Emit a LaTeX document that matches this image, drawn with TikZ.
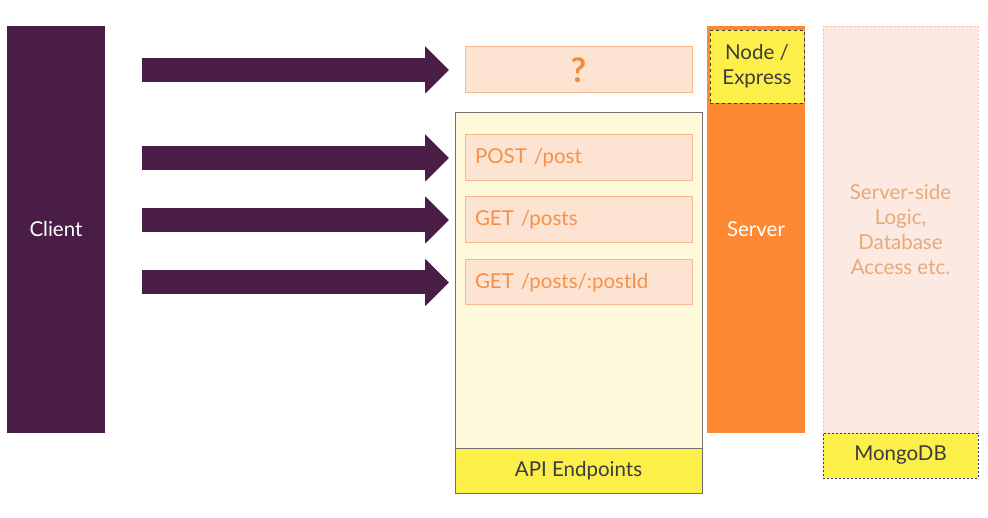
\documentclass[tikz,border=0pt]{standalone}
\usepackage{fontspec}
\setmainfont{Lato}
\definecolor{clientpurple}{RGB}{74, 29, 71}
\definecolor{peachfill}{RGB}{253, 228, 210}
\definecolor{peachline}{RGB}{247, 185, 140}
\definecolor{routetext}{RGB}{245, 145, 72}
\definecolor{qorange}{RGB}{245, 138, 58}
\definecolor{apifill}{RGB}{255, 249, 219}
\definecolor{apiline}{RGB}{112, 112, 112}
\definecolor{tagyellow}{RGB}{253, 239, 74}
\definecolor{serverorange}{RGB}{253, 138, 51}
\definecolor{logicfill}{RGB}{252, 233, 225}
\definecolor{logicline}{RGB}{240, 196, 176}
\definecolor{logictext}{RGB}{230, 170, 122}
\definecolor{darktext}{RGB}{60, 60, 60}
\usetikzlibrary{arrows.meta, positioning, calc}

\begin{document}
\begin{tikzpicture}[x=1pt, y=-1pt,
  box/.style={anchor=north west, inner sep=0pt, outer sep=0pt, align=center, font=\fontsize{20.5}{25}\selectfont},
  route/.style={box, draw=peachline, fill=peachfill, line width=1pt, text width=207pt, inner xsep=10pt, align=left, text=routetext},
  tag/.style={box, fill=tagyellow, text=darktext},
  fatarrow/.style={clientpurple, line width=24pt, -{Triangle[length=24pt, width=46pt]}, shorten <=37pt, shorten >=16pt}
]
  \useasboundingbox (0,0) rectangle (988,518);

  % Client
  \node[box, fill=clientpurple, text=white, minimum width=98pt, minimum height=407pt] (client) at (7,26) {Client};

  % Unknown route
  \node[box, draw=peachline, fill=peachfill, line width=1pt, minimum width=227pt, minimum height=46pt, text=qorange, font=\fontsize{34}{34}\bfseries] (unknown) at (465,47) {?};

  % API endpoints
  \node[box, draw=apiline, fill=apifill, line width=1pt, minimum width=247pt, minimum height=380pt] (api) at (455,113) {};
  \node[tag, draw=apiline, line width=1pt, minimum width=247pt, minimum height=45pt] (apilabel) at (455,448) {API Endpoints};
  \node[route, minimum height=46pt] (post) at (465,135) {POST /post};
  \node[route, minimum height=46pt] (getall) at (465,197) {GET /posts};
  \node[route, minimum height=45pt] (getone) at (465,260) {GET /posts/:postId};

  % Server
  \node[box, fill=serverorange, text=white, minimum width=98pt, minimum height=407pt] (server) at (707,26) {Server};
  \node[tag, draw=darktext, dashed, line width=0.8pt, minimum width=94pt, minimum height=73pt] (express) at (710,30) {Node /\\Express};

  % Server-side logic
  \node[box, draw=logicline, dash pattern=on 2pt off 2pt, fill=logicfill, line width=0.8pt, text=logictext, minimum width=155pt, minimum height=407pt] (logic) at (823,26) {Server-side\\Logic,\\Database\\Access etc.};
  \node[tag, draw=darktext, dash pattern=on 2pt off 2pt, line width=0.8pt, minimum width=155pt, minimum height=45pt] (mongo) at (823,433) {MongoDB};

  % Requests
  \draw[fatarrow] (client.east |- unknown.west) -- (unknown.west);
  \draw[fatarrow] (client.east |- post.west) -- (post.west);
  \draw[fatarrow] (client.east |- getall.west) -- (getall.west);
  \draw[fatarrow] (client.east |- getone.west) -- (getone.west);
\end{tikzpicture}
\end{document}
